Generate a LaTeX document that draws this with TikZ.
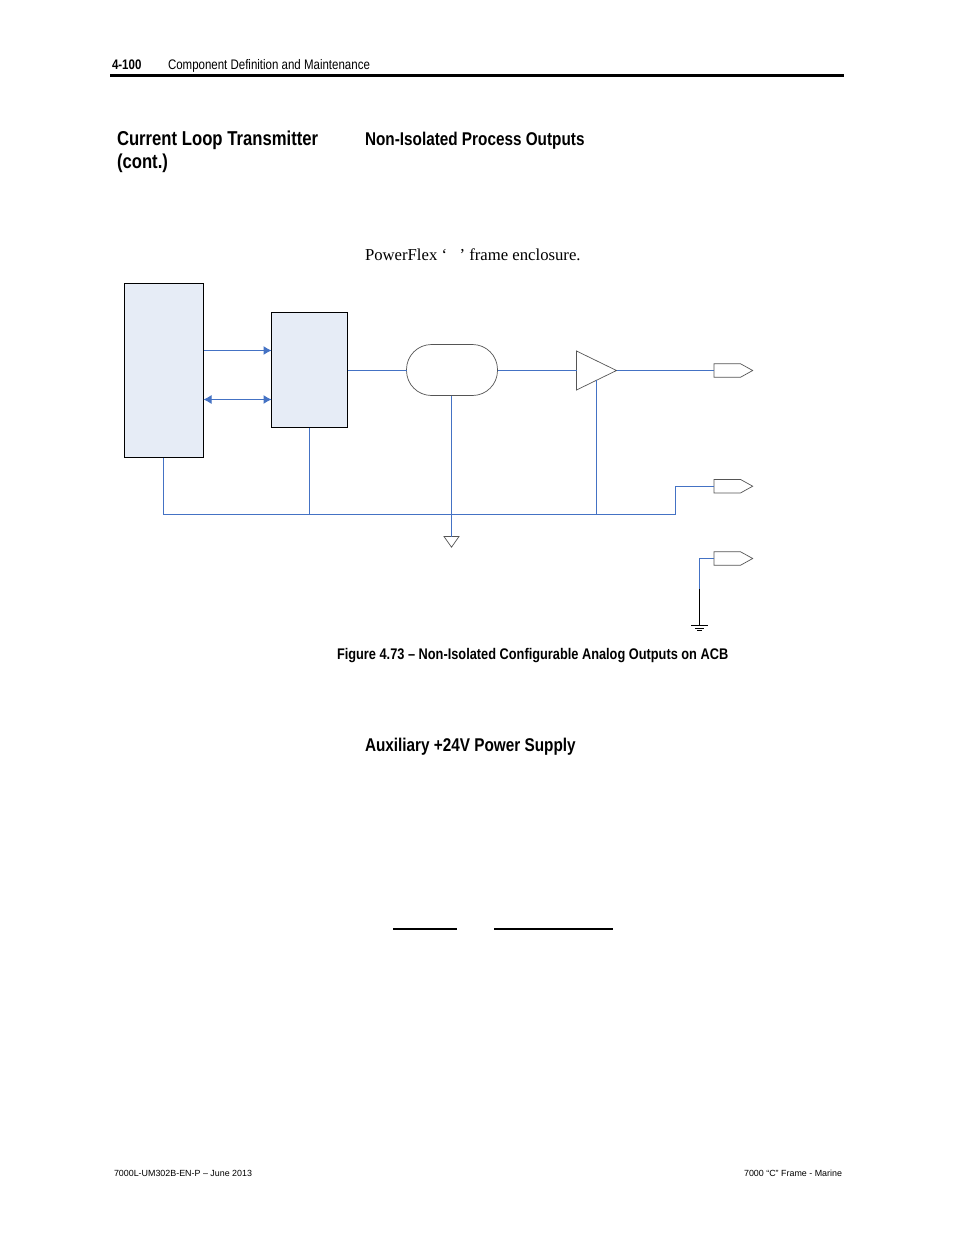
\documentclass[tikz,border=0pt]{standalone}
\usepackage{fontspec}
\setmainfont{Liberation Sans}
\newfontfamily\serifface{Liberation Serif}
\newfontfamily\narrowbold[FakeStretch=0.83]{Liberation Sans Bold}
\newfontfamily\narrowreg[FakeStretch=0.83]{Liberation Sans}
\usetikzlibrary{shapes.geometric,shapes.symbols,arrows.meta}
\definecolor{wire}{HTML}{4472C4}
\definecolor{boxfill}{HTML}{E6ECF6}
\definecolor{shapeline}{HTML}{555555}
\tikzset{
  every node/.style={inner sep=0pt,outer sep=0pt},
  txt/.style={anchor=base west},
  blockbox/.style={draw=black,line width=1pt,fill=boxfill,minimum width=#1,anchor=north west},
  wireline/.style={draw=wire,line width=1pt},
  biarrow/.style={wireline,{Latex[length=8pt,width=9pt]}-{Latex[length=8pt,width=9pt]}},
  fwdarrow/.style={wireline,-{Latex[length=8pt,width=9pt]}},
  shapeedge/.style={draw=shapeline,line width=0.7pt,fill=white},
  pinshape/.style={shapeedge,signal,signal to=east,signal from=nowhere,signal pointer angle=58,minimum height=13.4pt,minimum width=38.7pt,anchor=west},
  head/.style={txt,font=\narrowbold\fontsize{20.1}{23}\selectfont},
  subhead/.style={txt,font=\narrowbold\fontsize{18.45}{21}\selectfont},
}
\begin{document}
\begin{tikzpicture}[x=1pt,y=-1pt]
\useasboundingbox[fill=white] (0,0) rectangle (954,1235);
% page furniture
\coordinate (ruleL) at (110,75);
\coordinate (ruleR) at (844,75);
\draw[line width=3pt,black] (ruleL) -- (ruleR);
\node[txt,font=\narrowbold\fontsize{13.85}{15}\selectfont] (pg) at (112,69) {4-100};
\node[txt,font=\narrowreg\fontsize{13.85}{15}\selectfont] (ch) at (168,69) {Component Definition and Maintenance};
\node[head] (h1) at (117,145) {Current Loop Transmitter};
\node[head] (h1b) at (117,168) {(cont.)};
\node[subhead] (h2) at (365,145) {Non-Isolated Process Outputs};
\node[txt,font=\serifface\fontsize{16.7}{19}\selectfont] (pf) at (365,260) {PowerFlex ‘ \ \ ’ frame enclosure.};
\node[txt,font=\narrowbold\fontsize{15.4}{17}\selectfont] (cap) at (337,659) {Figure 4.73 – Non-Isolated Configurable Analog Outputs on ACB};
\node[subhead] (h3) at (365,751) {Auxiliary +24V Power Supply};
\coordinate (u1a) at (393,929); \coordinate (u1b) at (457,929);
\coordinate (u2a) at (494,929); \coordinate (u2b) at (613,929);
\draw[line width=1.2pt] (u1a) -- (u1b);
\draw[line width=1.2pt] (u2a) -- (u2b);
\node[txt,font=\fontsize{8.9}{11}\selectfont] (fl) at (114,1176) {7000L-UM302B-EN-P – June 2013};
\node[anchor=base east,font=\fontsize{8.9}{11}\selectfont] (fr) at (842,1176) {7000 “C” Frame - Marine};
% blocks
\node[blockbox=79pt,minimum height=174pt] (cpu) at (124.5,283.5) {};
\node[blockbox=76pt,minimum height=115pt] (dac) at (271.5,312.5) {};
\node[shapeedge,rounded corners=25pt,minimum width=91pt,minimum height=51pt,anchor=north west] (iso) at (406.5,344.5) {};
\node[shapeedge,isosceles triangle,isosceles triangle stretches=true,shape border rotate=0,minimum width=39pt,minimum height=40pt,anchor=lower side] (amp) at (576.5,370.5) {};
\node[pinshape] (p1) at (714,370.5) {};
\node[pinshape] (p2) at (714,486.2) {};
\node[pinshape] (p3) at (714,558.5) {};
\node[shapeedge,isosceles triangle,isosceles triangle stretches=true,shape border rotate=-90,minimum width=15pt,minimum height=10.7pt,anchor=lower side] (agnd) at (451.5,536.5) {};
% junctions and corners
\coordinate (cpuA) at (cpu.east |- 0,350.5);
\coordinate (dacA) at (dac.west |- 0,350.5);
\coordinate (cpuB) at (cpu.east |- 0,399.5);
\coordinate (dacB) at (dac.west |- 0,399.5);
\coordinate (busL) at (163.5,514.5);
\coordinate (cpuS) at (163.5,457.5);
\coordinate (busD) at (dac.south |- 0,514.5);
\coordinate (isoS) at (451.5,395.5);
\coordinate (ampT) at (596.5,380.2);
\coordinate (busA) at (596.5,514.5);
\coordinate (busR) at (675.5,514.5);
\coordinate (busUp) at (675.5,486.5);
\coordinate (p2in) at (714,486.5);
\coordinate (gndTop) at (699.5,558.5);
\coordinate (gndMid) at (699.5,589);
\coordinate (gnd) at (699.5,625.5);
\coordinate (g1a) at (691,625.5); \coordinate (g1b) at (708,625.5);
\coordinate (g2a) at (695,628); \coordinate (g2b) at (704,628);
\coordinate (g3a) at (697,630.5); \coordinate (g3b) at (702,630.5);
% wires
\draw[fwdarrow] (cpuA) -- (dacA);
\draw[biarrow] (cpuB) -- (dacB);
\draw[wireline] (dac.east |- amp.lower side) -- (iso.west |- amp.lower side);
\draw[wireline] (iso.east |- amp.lower side) -- (amp.lower side);
\draw[wireline] (amp.apex) -- (p1.west);
\draw[wireline] (cpuS) -- (busL) -- (busR) -- (busUp) -- (p2in);
\draw[wireline] (dac.south) -- (busD);
\draw[wireline] (isoS) -- (agnd.lower side);
\draw[wireline] (ampT) -- (busA);
\draw[wireline] (p3.west) -- (gndTop) -- (gndMid);
\draw[line width=1pt,black] (gndMid) -- (gnd);
\draw[line width=0.8pt,black] (g1a) -- (g1b);
\draw[line width=0.8pt,black] (g2a) -- (g2b);
\draw[line width=0.8pt,black] (g3a) -- (g3b);
\end{tikzpicture}
\end{document}
